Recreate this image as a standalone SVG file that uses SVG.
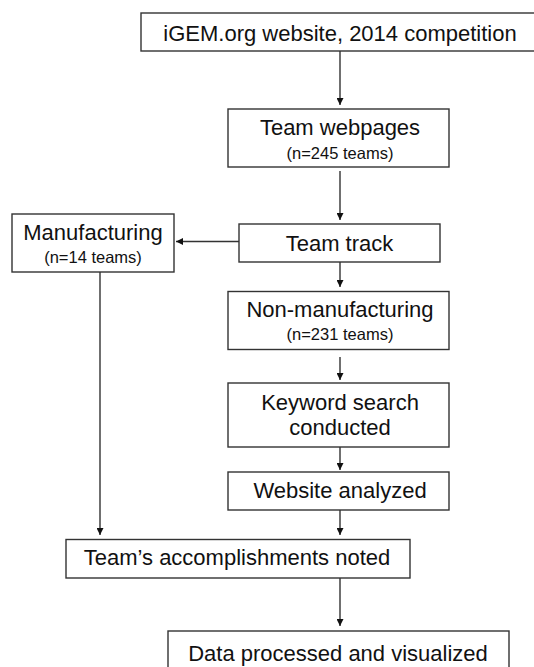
<svg xmlns="http://www.w3.org/2000/svg" width="534" height="667" viewBox="0 0 534 667">
<style>
.box{fill:#fff;stroke:#333;stroke-width:1.4}
.t{font-family:"Liberation Sans",Arial,sans-serif;font-size:22px;fill:#111;text-anchor:middle}
.s{font-family:"Liberation Sans",Arial,sans-serif;font-size:16.5px;fill:#111;text-anchor:middle}
.c{fill:none;stroke:#333;stroke-width:1.4}
</style>
<defs>
<marker id="ah" viewBox="0 0 10 10" refX="10" refY="5" markerWidth="7" markerHeight="7" markerUnits="userSpaceOnUse" orient="auto">
<path d="M0,0 L10,5 L0,10 Z" fill="#111"/>
</marker>
</defs>
<rect width="534" height="667" fill="#fff"/>
<g id="connectors">
<line class="c" x1="340" y1="51" x2="340" y2="105" marker-end="url(#ah)"/>
<line class="c" x1="340" y1="171" x2="340" y2="220" marker-end="url(#ah)"/>
<line class="c" x1="239" y1="241.5" x2="176" y2="241.5" marker-end="url(#ah)"/>
<line class="c" x1="340" y1="262" x2="340" y2="287" marker-end="url(#ah)"/>
<line class="c" x1="340" y1="357" x2="340" y2="380" marker-end="url(#ah)"/>
<line class="c" x1="340" y1="447" x2="340" y2="470" marker-end="url(#ah)"/>
<line class="c" x1="340" y1="510" x2="340" y2="535" marker-end="url(#ah)"/>
<line class="c" x1="100" y1="272" x2="100" y2="535" marker-end="url(#ah)"/>
<line class="c" x1="340" y1="578" x2="340" y2="626" marker-end="url(#ah)"/>
</g>
<g id="n1">
<rect class="box" x="141" y="13" width="398" height="38"/>
<text class="t" x="340" y="41">iGEM.org website, 2014 competition</text>
</g>
<g id="n2">
<rect class="box" x="228" y="109" width="221" height="58"/>
<text class="t" x="340" y="134.5">Team webpages</text>
<text class="s" x="340" y="158.5">(n=245 teams)</text>
</g>
<g id="n3">
<rect class="box" x="12" y="214" width="162" height="58"/>
<text class="t" x="93" y="239.5">Manufacturing</text>
<text class="s" x="93" y="263">(n=14 teams)</text>
</g>
<g id="n4">
<rect class="box" x="239" y="224" width="201" height="38"/>
<text class="t" x="339.5" y="251">Team track</text>
</g>
<g id="n5">
<rect class="box" x="228" y="291.5" width="221" height="58"/>
<text class="t" x="340" y="317">Non-manufacturing</text>
<text class="s" x="340" y="339.5">(n=231 teams)</text>
</g>
<g id="n6">
<rect class="box" x="228" y="383" width="221" height="64"/>
<text class="t" x="340" y="409.5">Keyword search</text>
<text class="t" x="340" y="434.5">conducted</text>
</g>
<g id="n7">
<rect class="box" x="228" y="472" width="221" height="38"/>
<text class="t" x="340" y="497.5">Website analyzed</text>
</g>
<g id="n8">
<rect class="box" x="66" y="539.5" width="344" height="38.5"/>
<text class="t" x="237" y="565">Team’s accomplishments noted</text>
</g>
<g id="n9">
<rect class="box" x="168" y="631" width="341" height="45"/>
<text class="t" x="338" y="661">Data processed and visualized</text>
</g>
</svg>
